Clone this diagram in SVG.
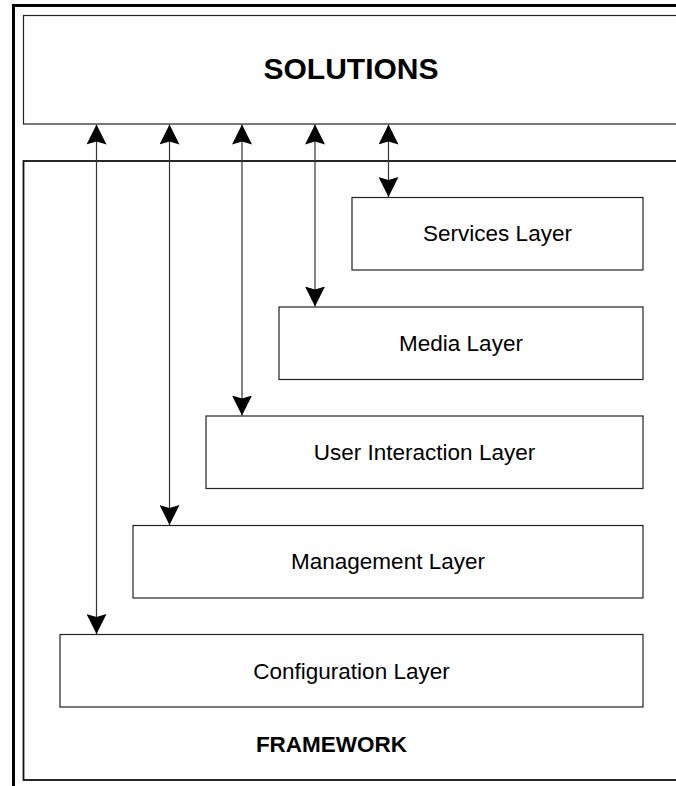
<svg xmlns="http://www.w3.org/2000/svg" width="676" height="786" viewBox="0 0 676 786">
  <style>
    .box { fill: #ffffff; stroke: #222222; stroke-width: 1.2; }
    .lbl { font-family: "Liberation Sans", Arial, sans-serif; font-size: 22.5px; fill: #000000; text-anchor: middle; }
    .bold { font-family: "Liberation Sans", Arial, sans-serif; font-weight: bold; fill: #000000; text-anchor: middle; }
    .conn { stroke: #333333; stroke-width: 1.2; fill: none; marker-start: url(#ah); marker-end: url(#ah); }
  </style>
  <defs>
    <marker id="ah" markerUnits="userSpaceOnUse" markerWidth="20" markerHeight="20" viewBox="0 0 20 20" refX="20" refY="10" orient="auto-start-reverse">
      <path d="M0,0 L20,10 L0,20 L3,10 z" fill="#000000"/>
    </marker>
  </defs>
  <rect width="676" height="786" fill="#ffffff"/>
  <rect x="13.5" y="5.5" width="700" height="800" fill="none" stroke="#000000" stroke-width="3"/>
  <g id="solutions">
    <rect class="box" x="23.5" y="15.5" width="700" height="108.5"/>
    <text class="bold" x="351" y="79" font-size="30">SOLUTIONS</text>
  </g>
  <g id="framework">
    <rect x="23.5" y="161" width="700" height="619" fill="#ffffff" stroke="#111111" stroke-width="1.8"/>
    <text class="bold" x="331.5" y="752" font-size="22.5">FRAMEWORK</text>
  </g>
  <g id="services">
    <rect class="box" x="352" y="197.5" width="291" height="72.5"/>
    <text class="lbl" x="497.5" y="241">Services Layer</text>
  </g>
  <g id="media">
    <rect class="box" x="279" y="307" width="364" height="72.5"/>
    <text class="lbl" x="461" y="350.5">Media Layer</text>
  </g>
  <g id="userinteraction">
    <rect class="box" x="206" y="416" width="437" height="72.5"/>
    <text class="lbl" x="424.5" y="460">User Interaction Layer</text>
  </g>
  <g id="management">
    <rect class="box" x="133" y="525.5" width="510" height="72.5"/>
    <text class="lbl" x="388" y="569">Management Layer</text>
  </g>
  <g id="configuration">
    <rect class="box" x="60" y="634.5" width="583" height="72.5"/>
    <text class="lbl" x="351.5" y="678.5">Configuration Layer</text>
  </g>
  <g id="connectors">
    <line class="conn" x1="96.5" y1="124.5" x2="96.5" y2="634"/>
    <line class="conn" x1="169.5" y1="124.5" x2="169.5" y2="525"/>
    <line class="conn" x1="242" y1="124.5" x2="242" y2="415.5"/>
    <line class="conn" x1="315" y1="124.5" x2="315" y2="306.5"/>
    <line class="conn" x1="388.5" y1="124.5" x2="388.5" y2="197"/>
  </g>
</svg>
